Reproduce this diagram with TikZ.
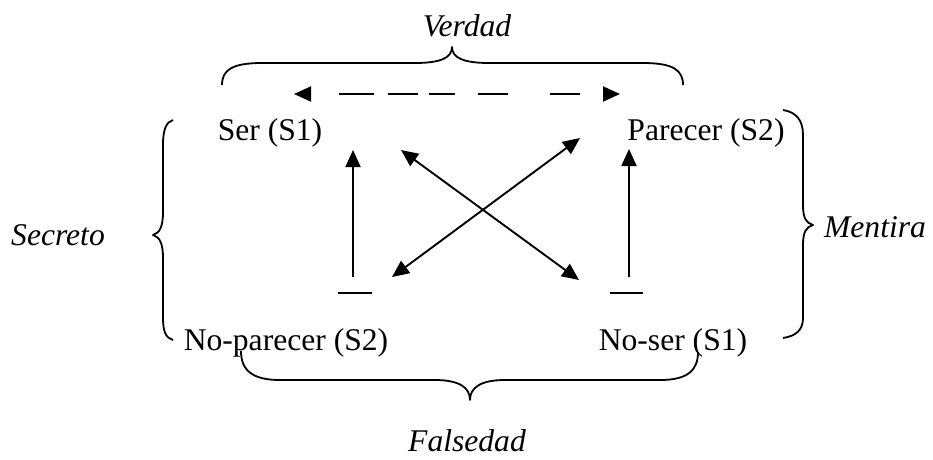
\documentclass[tikz,border=0pt]{standalone}
\usepackage{fontspec}
\setmainfont{Liberation Serif}
\usetikzlibrary{arrows.meta}

\tikzset{
  lbl/.style={anchor=base, inner sep=0pt, font=\fontsize{31.6}{38}\selectfont},
  cat/.style={lbl, font=\fontsize{31.6}{38}\selectfont\itshape},
  link/.style={line width=1.9pt, -{Triangle[length=17pt,width=15pt]}},
  dlink/.style={line width=1.9pt, {Triangle[length=17pt,width=15pt]}-{Triangle[length=17pt,width=15pt]}},
  brace/.style={line width=1.8pt, line join=round},
  bar/.style={line width=1.9pt}
}

\begin{document}
\begin{tikzpicture}[x=1pt, y=-1pt]
  \useasboundingbox (0,0) rectangle (933,459);

  % terms of the square
  \node[lbl] (ser)  at (270,140) {Ser (S1)};
  \node[lbl] (par)  at (706,140) {Parecer (S2)};
  \node[lbl] (npar) at (286,350) {No-parecer (S2)};
  \node[lbl] (nser) at (673,350) {No-ser (S1)};

  % categories
  \node[cat] (verdad)   at (467,36)  {Verdad};
  \node[cat] (secreto)  at (58,245)  {Secreto};
  \node[cat] (mentira)  at (875,237) {Mentira};
  \node[cat] (falsedad) at (467,451) {Falsedad};

  % arrow end points
  \coordinate (dl) at (294,94);
  \coordinate (dr) at (620,94);
  \coordinate (vlb) at (353,277);
  \coordinate (vlt) at (353,150);
  \coordinate (vrb) at (629,277);
  \coordinate (vrt) at (629,149);
  \coordinate (xa1) at (401,150);
  \coordinate (xa2) at (579,280);
  \coordinate (xb1) at (580,138);
  \coordinate (xb2) at (392,277);
  \coordinate (bl1) at (338,293);
  \coordinate (bl2) at (372,293);
  \coordinate (br1) at (610,293);
  \coordinate (br2) at (643,293);

  % contrariety (dashed)
  \draw[dlink, dash pattern=on 0pt off 28pt on 35pt off 14pt on 30pt off 11pt on 26pt off 23pt on 30pt off 42pt on 30pt off 60pt] (dl) -- (dr);

  % implications
  \draw[link] (vlb) -- (vlt);
  \draw[link] (vrb) -- (vrt);
  \draw[bar] (bl1) -- (bl2);
  \draw[bar] (br1) -- (br2);

  % contradictions
  \draw[dlink] (xa1) -- (xa2);
  \draw[dlink] (xb1) -- (xb2);

  % top brace
  \draw[brace] (222,85) .. controls (222,70) and (232,63) .. (262,63)
    -- (415,63) .. controls (440,63) and (452,58) .. (452,47)
    .. controls (452,58) and (464,63) .. (489,63)
    -- (643,63) .. controls (673,63) and (683,70) .. (683,85);

  % bottom brace
  \draw[brace] (241,351) .. controls (241,370) and (252,380) .. (280,380)
    -- (435,380) .. controls (460,380) and (470,388) .. (470,400)
    .. controls (470,388) and (480,380) .. (505,380)
    -- (660,380) .. controls (688,380) and (698,370) .. (698,352);

  % left brace
  \draw[brace] (173,120) .. controls (166,122) and (163,130) .. (163,145)
    -- (163,212) .. controls (163,226) and (160,233) .. (153,235)
    .. controls (160,237) and (163,244) .. (163,258)
    -- (163,318) .. controls (163,332) and (166,338) .. (173,340);

  % right brace
  \draw[brace] (783,110) .. controls (796,112) and (803,120) .. (803,135)
    -- (803,205) .. controls (803,218) and (806,223) .. (813,225)
    .. controls (806,227) and (803,232) .. (803,245)
    -- (803,318) .. controls (803,330) and (796,336) .. (783,338);
\end{tikzpicture}
\end{document}
